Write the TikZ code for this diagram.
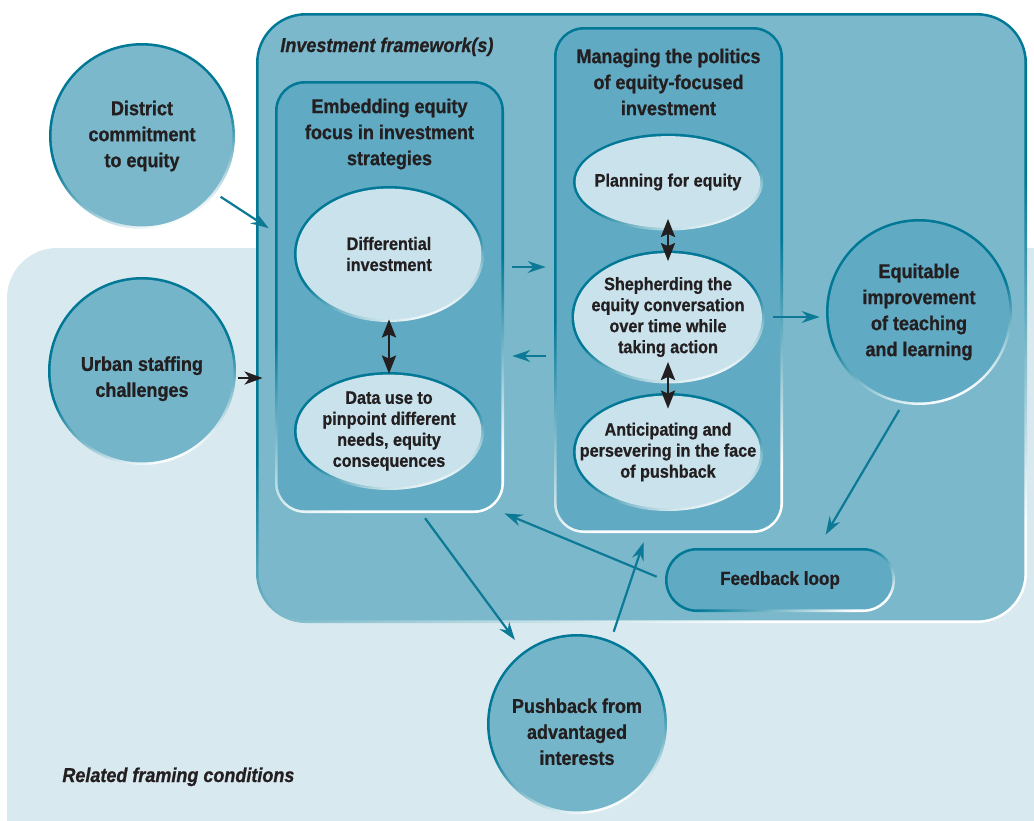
\documentclass[tikz,border=0pt]{standalone}
\usepackage{fontspec}
\setmainfont{Liberation Sans}[FakeStretch=0.9,
    BoldFeatures={FakeBold=0.8}, BoldItalicFeatures={FakeBold=0.8}]
\usetikzlibrary{calc, arrows.meta, shapes.geometric}
\definecolor{paleback}{RGB}{217, 233, 240}
\definecolor{framefill}{RGB}{123, 184, 203}
\definecolor{boxfill}{RGB}{97, 170, 196}
\definecolor{ovalfill}{RGB}{201, 226, 236}
\definecolor{circfill}{RGB}{116, 181, 201}
\definecolor{rimteal}{RGB}{0, 120, 150}
\definecolor{arrowteal}{RGB}{12, 122, 150}
\definecolor{inkdark}{RGB}{35, 31, 32}
\newcommand\lowtext{\rule{0pt}{15pt}}
\tikzset{
    rimmed/.style={left color=rimteal, right color=white, middle color=rimteal,
        shading angle=20},
    ovalrim/.style={rimmed, ellipse, inner xsep=-12pt, inner ysep=0pt,
        path picture={\fill[#1] let \p1=($(path picture bounding box.north east)
            -(path picture bounding box.center)$) in
            (path picture bounding box.center) ellipse ({\x1-1.3pt} and {\y1-1.3pt});}},
    boxrim/.style 2 args={rimmed, rectangle, rounded corners=#2, inner sep=0pt,
        path picture={\fill[#1, rounded corners=#2-1.3pt]
            ([shift={(1.3pt,1.3pt)}]path picture bounding box.south west) rectangle
            ([shift={(-1.3pt,-1.3pt)}]path picture bounding box.north east);}},
    bigtext/.style={font=\bfseries\fontsize{10}{13}\selectfont},
    smalltext/.style={font=\bfseries\fontsize{9}{10.5}\selectfont},
    headtext/.style={font=\bfseries\itshape\fontsize{10}{12}\selectfont,
        anchor=base west, inner sep=0pt},
    flow/.style={draw=arrowteal, line width=1.1pt,
        -{Stealth[length=9pt, width=6pt, inset=3pt]}},
    push/.style={draw=inkdark, line width=1.3pt,
        -{Stealth[length=9pt, width=6.5pt, inset=2.5pt]}},
    both/.style={draw=inkdark, line width=1.4pt,
        {Stealth[length=9pt, width=7pt, inset=1.5pt]}-{Stealth[length=9pt, width=7pt, inset=1.5pt]}},
}

\begin{document}
\begin{tikzpicture}[x=0.5pt, y=-0.5pt, every node/.style={text=inkdark, align=center}]
    \useasboundingbox (0,0) rectangle (1034,820);
    \fill[paleback, rounded corners=25pt] (7,248) rectangle (1090,880);
    \node[boxrim={framefill}{25pt}, minimum width=385.5pt, minimum height=305pt]
        (frame) at (641.5,318) {};
    \node[headtext] (frametitle) at (280,52) {Investment framework(s)};
    \node[headtext] (bgtitle) at (62,782) {Related framing conditions};

    % outer circles
    \node[ovalrim=framefill, minimum size=93pt, bigtext] (district) at (142,136)
        {District\\commitment\\to equity};
    \node[ovalrim=circfill, minimum size=94pt, bigtext] (urban) at (142,371)
        {\lowtext Urban staffing\\challenges};
    \node[ovalrim=boxfill, minimum size=93pt, bigtext] (equit) at (919,312)
        {Equitable\\improvement\\of teaching\\and learning};
    \node[ovalrim=circfill, minimum size=90pt, bigtext] (pushback) at (577,724)
        {\lowtext Pushback from\\advantaged\\interests};

    % the two strategy boxes
    \node[boxrim={boxfill}{15pt}, minimum width=114.5pt, minimum height=216pt]
        (embed) at (389.5,297) {};
    \node[bigtext] (embedtitle) at (389.5,134)
        {Embedding equity\\focus in investment\\strategies};
    \node[ovalrim=ovalfill, minimum width=95pt, minimum height=68pt, smalltext]
        (diff) at (389,254) {Differential\\investment};
    \node[ovalrim=ovalfill, minimum width=95pt, minimum height=59pt, smalltext]
        (data) at (389,431) {Data use to\\pinpoint different\\needs, equity\\consequences};

    \node[boxrim={boxfill}{15pt}, minimum width=114.5pt, minimum height=253pt]
        (manage) at (668.5,280) {};
    \node[bigtext] (managetitle) at (668.5,82)
        {Managing the politics\\of equity-focused\\investment};
    \node[ovalrim=ovalfill, minimum width=95pt, minimum height=48.5pt, smalltext]
        (plan) at (668,182) {Planning for equity};
    \node[ovalrim=ovalfill, minimum width=96.5pt, minimum height=66.5pt, smalltext]
        (shep) at (668,317) {Shepherding the\\equity conversation\\over time while\\taking action};
    \node[ovalrim=ovalfill, minimum width=95pt, minimum height=59pt, smalltext]
        (antic) at (668,452) {Anticipating and\\persevering in the face\\of pushback};

    \node[boxrim={boxfill}{16pt}, minimum width=115pt, minimum height=32pt,
        font=\bfseries\fontsize{9.5}{11}\selectfont] (feedback) at (780,580) {Feedback loop};

    % connectors
    \draw[both, shorten <=-1.5pt, shorten >=-1pt] (diff) -- (data);
    \draw[both, shorten <=-6pt, shorten >=-5.5pt] (plan) -- (shep);
    \draw[both, shorten <=-11pt, shorten >=-8pt] (shep) -- (antic);

    \draw[flow, shorten <=3pt, shorten >=3.5pt] (district.-38) -- ([yshift=32.5pt]embed.west);
    \draw[push, shorten <=1pt, shorten >=6pt] ([yshift=-3.5pt]urban.east)
        -- ([yshift=-3.5pt]urban.east -| embed.west);
    \draw[flow, shorten <=4pt, shorten >=4pt] ([yshift=15pt]embed.east)
        -- ([yshift=15pt]embed.east -| manage.west);
    \draw[flow, shorten <=4pt, shorten >=4pt] ([yshift=-29.5pt]embed.east -| manage.west)
        -- ([yshift=-29.5pt]embed.east);
    \draw[flow, shorten <=-5pt, shorten >=3pt] (shep.east -| manage.east)
        -- (shep.east -| equit.west);
    \draw[flow, shorten <=3.5pt, shorten >=7.5pt] (equit.-100) -- ([xshift=19pt]feedback.north);
    \draw[flow, shorten <=4.3pt] (feedback.west) -- (embed.south east);
    \draw[flow, shorten <=3pt, shorten >=7pt] ([xshift=16pt]embed.south) -- (pushback);
    \draw[flow, shorten <=4.5pt, shorten >=4.7pt] (pushback.68) -- ([xshift=-11pt]manage.south);
\end{tikzpicture}
\end{document}
